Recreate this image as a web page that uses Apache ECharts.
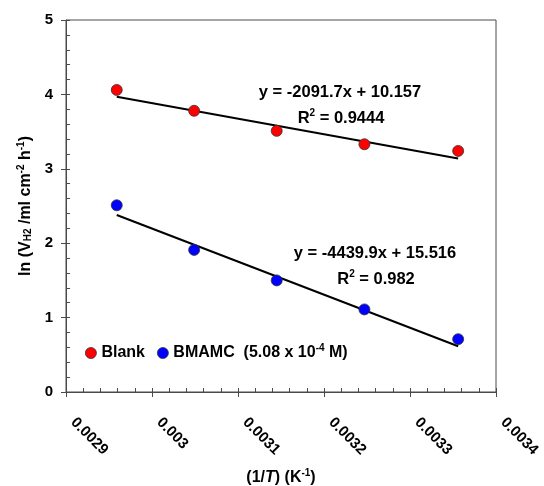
<!DOCTYPE html>
<html>
<head>
<meta charset="utf-8">
<script src="https://cdn.jsdelivr.net/npm/echarts@6/dist/echarts.min.js"></script>
<style>
  html, body { margin: 0; padding: 0; background: #fff; }
  #chart { width: 544px; height: 486px; }
</style>
</head>
<body>
<div id="chart"></div>
<script>
// Reciprocal temperature (1/T, K^-1) for each run
const invT = [0.002959, 0.003049, 0.003145, 0.003247, 0.003356];
// ln of hydrogen evolution rate
const blankLn = [4.06, 3.78, 3.51, 3.33, 3.24];
const bmamcLn = [2.51, 1.91, 1.50, 1.11, 0.71];
// Linear fits (slope, intercept) and R^2 as reported
const blankFit = { slope: -2091.7, intercept: 10.157, r2: '0.9444' };
const bmamcFit = { slope: -4439.9, intercept: 15.516, r2: '0.982' };
const xTicks = { min: 0.0029, max: 0.0034, interval: 0.0001 };
const yTicks = { min: 0, max: 5, interval: 1 };
const seriesNames = ['Blank', 'BMAMC'];

const FONT = 'Liberation Sans, Arial, sans-serif';
const AXIS_COLOR = '#4a4a4a';
const FS = 16;

function fitLine(fit) {
  const x0 = invT[0], x1 = invT[invT.length - 1];
  return [[x0, fit.slope * x0 + fit.intercept], [x1, fit.slope * x1 + fit.intercept]];
}
function fitText(fit) {
  return 'y = ' + fit.slope.toFixed(1) + 'x + ' + fit.intercept.toFixed(3);
}

const richText = {
  n: { fontSize: FS, fontWeight: 'bold', fontFamily: FONT, color: '#000', lineHeight: 20 },
  i: { fontSize: FS, fontWeight: 'bold', fontStyle: 'italic', fontFamily: FONT, color: '#000', lineHeight: 20 },
  sub: { fontSize: 10, fontWeight: 'bold', fontFamily: FONT, color: '#000', lineHeight: 20, padding: [5, 0, 0, 0] },
  s: { fontSize: 10, fontWeight: 'bold', fontFamily: FONT, color: '#000', verticalAlign: 'top', lineHeight: 20, padding: [0, 0, 7, 0] }
};
const graphicRich = {
  n: { font: 'bold 16.5px ' + FONT, fill: '#000', lineHeight: 20 },
  s: { font: 'bold 10px ' + FONT, fill: '#000', verticalAlign: 'top', lineHeight: 20, padding: [0, 0, 7, 0] }
};

const chart = echarts.init(document.getElementById('chart'), null, { renderer: 'canvas' });

const baseX = {
  type: 'value', min: xTicks.min, max: xTicks.max, interval: xTicks.interval,
  gridIndex: 0, position: 'bottom', splitLine: { show: false }
};
const baseY = {
  type: 'value', min: yTicks.min, max: yTicks.max, interval: yTicks.interval,
  gridIndex: 0, position: 'left', splitLine: { show: false }
};

const markerStyle = (c) => ({ color: c, opacity: 1, borderColor: '#333', borderWidth: 0.8 });

chart.setOption({
  animation: false,
  textStyle: { fontFamily: FONT },
  grid: {
    left: 66, right: 48, top: 20, bottom: 94,
    outerBoundsMode: 'none', containLabel: false,
    show: true, borderColor: AXIS_COLOR, borderWidth: 1, backgroundColor: 'transparent'
  },
  xAxis: [
    Object.assign({}, baseX, {
      axisLine: { lineStyle: { color: AXIS_COLOR, width: 1 } },
      axisTick: { show: true, inside: false, length: 5, lineStyle: { color: AXIS_COLOR } },
      minorTick: { show: false },
      axisLabel: {
        rotate: -45, margin: 21, padding: [0, 0, 0, 10], color: '#000', fontSize: 15, fontWeight: 'bold',
        fontFamily: FONT, formatter: (v) => String(+v.toFixed(4))
      },
      name: '{n|(1/}{i|T}{n|) (K}{s|-1}{n|)}',
      nameLocation: 'middle', nameGap: 76,
      nameTextStyle: { rich: richText }
    }),
    Object.assign({}, baseX, {
      axisLine: { show: false },
      axisTick: { show: true, inside: true, length: 4, lineStyle: { color: AXIS_COLOR } },
      minorTick: { show: true, splitNumber: 5, length: 4, lineStyle: { color: AXIS_COLOR } },
      axisLabel: { show: false }
    })
  ],
  yAxis: [
    Object.assign({}, baseY, {
      axisLine: { lineStyle: { color: AXIS_COLOR, width: 1 } },
      axisTick: { show: true, inside: false, length: 5, lineStyle: { color: AXIS_COLOR } },
      minorTick: { show: false },
      axisLabel: { margin: 13, color: '#000', fontSize: 15, fontWeight: 'bold', fontFamily: FONT },
      name: '{n|ln (V}{sub|H2}{n| /ml cm}{s|-2}{n| h}{s|-1}{n|)}',
      nameLocation: 'middle', nameGap: 30, nameRotate: 90,
      nameTextStyle: { rich: richText }
    }),
    Object.assign({}, baseY, {
      axisLine: { show: false },
      axisTick: { show: true, inside: true, length: 4, lineStyle: { color: AXIS_COLOR } },
      minorTick: { show: true, splitNumber: 5, length: 4, lineStyle: { color: AXIS_COLOR } },
      axisLabel: { show: false }
    })
  ],
  legend: {
    left: 85, top: 343, itemGap: 12, itemWidth: 11, itemHeight: 11,
    icon: 'circle', selectedMode: false, padding: 0,
    data: seriesNames.map((n, i) => ({
      name: n,
      itemStyle: markerStyle(i === 0 ? '#ff0000' : '#0000ff')
    })),
    textStyle: {
      fontSize: FS, fontWeight: 'bold', fontFamily: FONT, color: '#000',
      rich: richText
    },
    formatter: (name) => name === 'BMAMC'
      ? '{n|BMAMC  (5.08 x 10}{s|-4}{n| M)}'
      : '{n|' + name + '}'
  },
  graphic: [
    { type: 'text', x: 340, y: 92, style: { text: fitText(blankFit), font: 'bold 16.5px ' + FONT, fill: '#000', align: 'center', verticalAlign: 'middle' } },
    { type: 'text', x: 341, y: 118, style: {
        text: '{n|R}{s|2}{n| = ' + blankFit.r2 + '}', align: 'center', verticalAlign: 'middle', rich: graphicRich } },
    { type: 'text', x: 375, y: 253, style: { text: fitText(bmamcFit), font: 'bold 16.5px ' + FONT, fill: '#000', align: 'center', verticalAlign: 'middle' } },
    { type: 'text', x: 376, y: 279, style: {
        text: '{n|R}{s|2}{n| = ' + bmamcFit.r2 + '}', align: 'center', verticalAlign: 'middle', rich: graphicRich } }
  ],
  series: [
    {
      name: 'Blank fit', type: 'line', xAxisIndex: 0, yAxisIndex: 0,
      data: fitLine(blankFit), symbol: 'none', z: 2,
      lineStyle: { color: '#000', width: 2 }, silent: true
    },
    {
      name: 'BMAMC fit', type: 'line', xAxisIndex: 0, yAxisIndex: 0,
      data: fitLine(bmamcFit), symbol: 'none', z: 2,
      lineStyle: { color: '#000', width: 2 }, silent: true
    },
    {
      name: 'Blank', type: 'scatter', xAxisIndex: 0, yAxisIndex: 0,
      data: invT.map((x, i) => [x, blankLn[i]]), symbol: 'circle', symbolSize: 11, z: 3,
      itemStyle: markerStyle('#ff0000')
    },
    {
      name: 'BMAMC', type: 'scatter', xAxisIndex: 0, yAxisIndex: 0,
      data: invT.map((x, i) => [x, bmamcLn[i]]), symbol: 'circle', symbolSize: 11, z: 3,
      itemStyle: markerStyle('#0000ff')
    }
  ]
});
</script>
</body>
</html>
